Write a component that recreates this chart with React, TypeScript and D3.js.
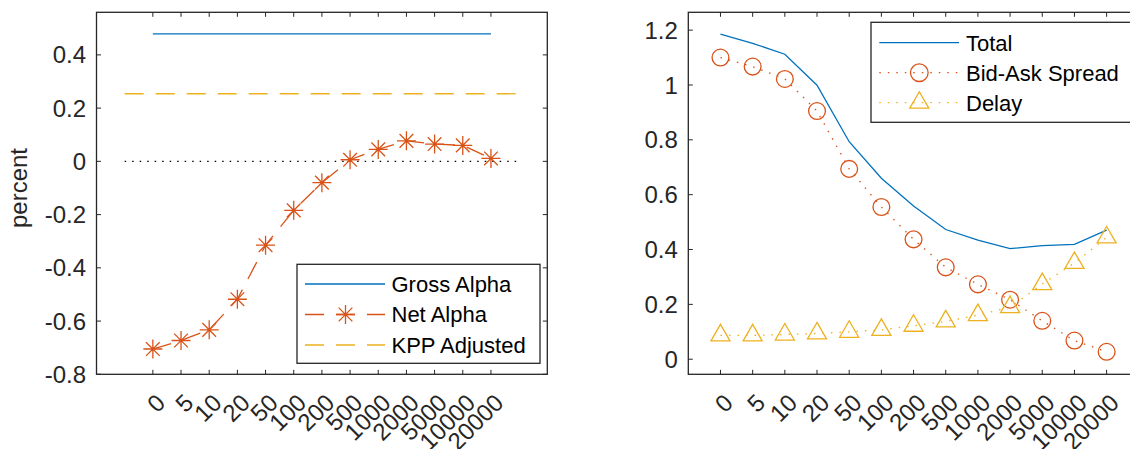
import React, { useEffect, useRef } from "react";
import * as d3 from "d3";

// x categories (delay)
const delayLabels = ["0", "5", "10", "20", "50", "100", "200", "500", "1000", "2000", "5000", "10000", "20000"];

// left panel
const grossAlpha = 0.479;
const kppAdjusted = 0.254;
const netAlpha = [-0.705, -0.673, -0.633, -0.518, -0.315, -0.184, -0.08, 0.006, 0.045, 0.077, 0.065, 0.06, 0.011];
const leftTicks = [-0.8, -0.6, -0.4, -0.2, 0, 0.2, 0.4];

// right panel
const totalCost = [1.185, 1.152, 1.112, 0.999, 0.793, 0.66, 0.559, 0.473, 0.434, 0.403, 0.414, 0.419, 0.471];
const bidAskSpread = [1.1, 1.067, 1.022, 0.905, 0.694, 0.555, 0.437, 0.335, 0.273, 0.217, 0.14, 0.068, 0.027];
const delayCost = [0.087, 0.087, 0.09, 0.094, 0.1, 0.107, 0.122, 0.138, 0.161, 0.19, 0.274, 0.351, 0.444];
const rightTicks = [0, 0.2, 0.4, 0.6, 0.8, 1, 1.2];

const BLUE = "#0072BD";
const ORANGE = "#D95319";
const YELLOW = "#EDB120";
const AXIS = "#262626";
const FONT = "'Liberation Sans', Arial, sans-serif";

const fmt = (v) => String(+v.toFixed(2));

function drawAxes(g, x, y, yTicks) {
    const [x0, x1] = x.range();
    const [y0, y1] = y.range();
    const tl = 4.5;
    const xs = delayLabels.map((_, i) => i + 1);

    g.append("rect")
        .attr("x", x0).attr("y", y1)
        .attr("width", x1 - x0).attr("height", y0 - y1)
        .attr("fill", "white");

    xs.forEach((v) => {
        g.append("line").attr("x1", x(v)).attr("x2", x(v)).attr("y1", y0).attr("y2", y0 - tl).attr("stroke", AXIS);
        g.append("line").attr("x1", x(v)).attr("x2", x(v)).attr("y1", y1).attr("y2", y1 + tl).attr("stroke", AXIS);
    });
    yTicks.forEach((v) => {
        g.append("line").attr("x1", x0).attr("x2", x0 + tl).attr("y1", y(v)).attr("y2", y(v)).attr("stroke", AXIS);
        g.append("line").attr("x1", x1).attr("x2", x1 - tl).attr("y1", y(v)).attr("y2", y(v)).attr("stroke", AXIS);
        g.append("text")
            .attr("x", x0 - 10.5)
            .attr("y", y(v) + 24 * 0.358)
            .attr("text-anchor", "end")
            .attr("font-size", 24)
            .attr("fill", AXIS)
            .text(fmt(v));
    });

    delayLabels.forEach((lab, i) => {
        const tx = x(i + 1) + 8;
        const ty = y0 + 24;
        g.append("text")
            .attr("transform", `translate(${tx},${ty}) rotate(-45)`)
            .attr("text-anchor", "end")
            .attr("dy", "0.35em")
            .attr("font-size", 24)
            .attr("fill", AXIS)
            .text(lab);
    });

    g.append("rect")
        .attr("x", x0).attr("y", y1)
        .attr("width", x1 - x0).attr("height", y0 - y1)
        .attr("fill", "none")
        .attr("stroke", AXIS)
        .attr("stroke-width", 1.3);
}

function asterisk(g, cx, cy, r, color) {
    const d = r * 0.72;
    const p = `M${cx - r},${cy}L${cx + r},${cy}M${cx},${cy - r}L${cx},${cy + r}` +
        `M${cx - d},${cy - d}L${cx + d},${cy + d}M${cx - d},${cy + d}L${cx + d},${cy - d}`;
    g.append("path").attr("d", p).attr("stroke", color).attr("stroke-width", 1.3).attr("fill", "none");
}

function triangle(g, cx, cy, r, color) {
    const h = r * 0.866;
    g.append("path")
        .attr("d", `M${cx},${cy - r}L${cx + h},${cy + r / 2}L${cx - h},${cy + r / 2}Z`)
        .attr("stroke", color).attr("stroke-width", 1.3).attr("fill", "none");
}

function circle(g, cx, cy, r, color) {
    g.append("circle").attr("cx", cx).attr("cy", cy).attr("r", r)
        .attr("stroke", color).attr("stroke-width", 1.3).attr("fill", "none");
}

const App = () => {
    const svgRef = useRef();

    useEffect(() => {
        const svg = d3.select(svgRef.current);
        svg.selectAll("*").remove();
        svg.attr("font-family", FONT);

        const idx = delayLabels.map((_, i) => i + 1);

        // ---------- left panel ----------
        const xL = d3.scaleLinear().domain([-1, 15]).range([96.5, 547.3]);
        const yL = d3.scaleLinear().domain([-0.8, 0.56]).range([374.3, 12.3]);
        const gL = svg.append("g");
        drawAxes(gL, xL, yL, leftTicks);

        gL.append("line")
            .attr("x1", xL(0)).attr("x2", xL(14))
            .attr("y1", yL(0)).attr("y2", yL(0))
            .attr("stroke", "#000").attr("stroke-width", 1.2)
            .attr("stroke-dasharray", "1.5 6");

        gL.append("line")
            .attr("x1", xL(1)).attr("x2", xL(13))
            .attr("y1", yL(grossAlpha)).attr("y2", yL(grossAlpha))
            .attr("stroke", BLUE).attr("stroke-width", 1.3);

        gL.append("line")
            .attr("x1", xL(0)).attr("x2", xL(14))
            .attr("y1", yL(kppAdjusted)).attr("y2", yL(kppAdjusted))
            .attr("stroke", YELLOW).attr("stroke-width", 1.3)
            .attr("stroke-dasharray", "19 12");

        const lineL = d3.line().x((d) => xL(d[0])).y((d) => yL(d[1]));
        gL.append("path")
            .attr("d", lineL(idx.map((v, i) => [v, netAlpha[i]])))
            .attr("fill", "none").attr("stroke", ORANGE).attr("stroke-width", 1.3)
            .attr("stroke-dasharray", "19 12");
        netAlpha.forEach((v, i) => asterisk(gL, xL(i + 1), yL(v), 9.5, ORANGE));

        // left legend
        const lgL = gL.append("g");
        lgL.append("rect").attr("x", 297).attr("y", 264.3).attr("width", 243).attr("height", 99)
            .attr("fill", "white").attr("stroke", AXIS).attr("stroke-width", 1.3);
        const rowsL = [
            { name: "Gross Alpha", color: BLUE, dash: null, marker: null },
            { name: "Net Alpha", color: ORANGE, dash: "19 12", marker: "asterisk" },
            { name: "KPP Adjusted", color: YELLOW, dash: "19 12", marker: null },
        ];
        rowsL.forEach((r, i) => {
            const cy = 284 + i * 30.5;
            lgL.append("line").attr("x1", 305).attr("x2", 385).attr("y1", cy).attr("y2", cy)
                .attr("stroke", r.color).attr("stroke-width", 1.3)
                .attr("stroke-dasharray", r.dash);
            if (r.marker) asterisk(lgL, 345.5, cy, 9.5, r.color);
            lgL.append("text").attr("x", 391.5).attr("y", cy + 22 * 0.358)
                .attr("font-size", 22).attr("fill", "#000").text(r.name);
        });

        // y label
        gL.append("text")
            .attr("transform", `translate(26.7,188) rotate(-90)`)
            .attr("text-anchor", "middle")
            .attr("font-size", 24)
            .attr("fill", AXIS)
            .text("percent");

        // ---------- right panel ----------
        const xR = d3.scaleLinear().domain([0, 14]).range([688.3, 1138.8]);
        const yR = d3.scaleLinear().domain([-0.055, 1.265]).range([374.3, 12.3]);
        const gR = svg.append("g");
        drawAxes(gR, xR, yR, rightTicks);

        const lineR = d3.line().x((d) => xR(d[0])).y((d) => yR(d[1]));
        gR.append("path")
            .attr("d", lineR(idx.map((v, i) => [v, totalCost[i]])))
            .attr("fill", "none").attr("stroke", BLUE).attr("stroke-width", 1.3);
        gR.append("path")
            .attr("d", lineR(idx.map((v, i) => [v, bidAskSpread[i]])))
            .attr("fill", "none").attr("stroke", ORANGE).attr("stroke-width", 1.3)
            .attr("stroke-dasharray", "1.5 7");
        gR.append("path")
            .attr("d", lineR(idx.map((v, i) => [v, delayCost[i]])))
            .attr("fill", "none").attr("stroke", YELLOW).attr("stroke-width", 1.3)
            .attr("stroke-dasharray", "1.5 7");
        bidAskSpread.forEach((v, i) => circle(gR, xR(i + 1), yR(v), 8.4, ORANGE));
        delayCost.forEach((v, i) => triangle(gR, xR(i + 1), yR(v), 11, YELLOW));

        // right legend
        const lgR = gR.append("g");
        lgR.append("rect").attr("x", 871).attr("y", 22.3).attr("width", 262).attr("height", 100)
            .attr("fill", "white").attr("stroke", AXIS).attr("stroke-width", 1.3);
        const rowsR = [
            { name: "Total", color: BLUE, dash: null, marker: null },
            { name: "Bid-Ask Spread", color: ORANGE, dash: "1.5 7", marker: "circle" },
            { name: "Delay", color: YELLOW, dash: "1.5 7", marker: "triangle" },
        ];
        rowsR.forEach((r, i) => {
            const cy = 42.7 + i * 30;
            lgR.append("line").attr("x1", 879.3).attr("x2", 959).attr("y1", cy).attr("y2", cy)
                .attr("stroke", r.color).attr("stroke-width", 1.3)
                .attr("stroke-dasharray", r.dash);
            if (r.marker === "circle") circle(lgR, 919.3, cy, 8.8, r.color);
            if (r.marker === "triangle") triangle(lgR, 919.3, cy, 11, r.color);
            lgR.append("text").attr("x", 966).attr("y", cy + 22 * 0.358)
                .attr("font-size", 22).attr("fill", "#000").text(r.name);
        });
    }, []);

    return (
        <div style={{ position: "absolute", left: 0, top: 0, background: "white" }}>
            <svg ref={svgRef} width={1130} height={449} style={{ display: "block" }}></svg>
        </div>
    );
};

export default App;
